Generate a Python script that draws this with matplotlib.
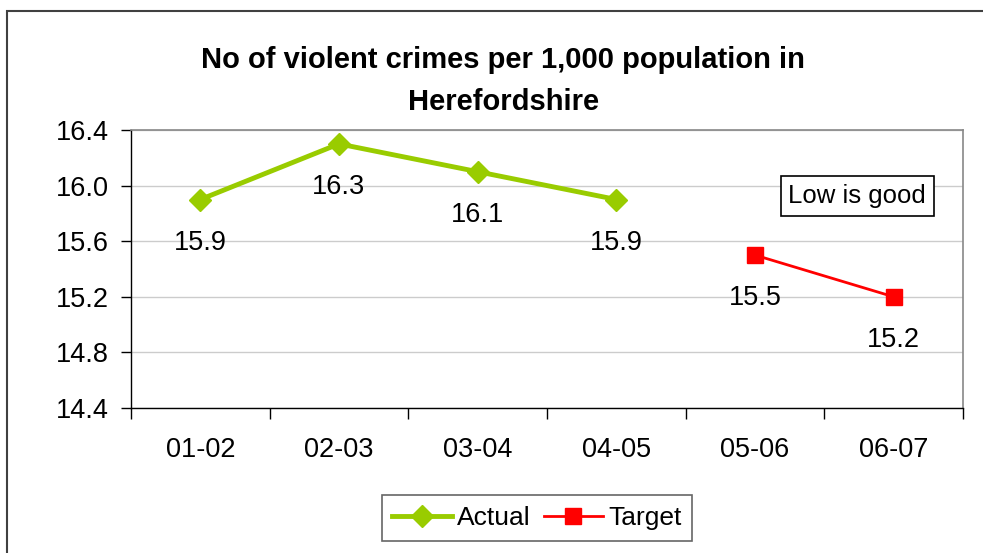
import matplotlib
matplotlib.use("Agg")
import matplotlib.pyplot as plt
from matplotlib.patches import Rectangle
from matplotlib.ticker import FixedLocator, NullFormatter

plt.rcParams['font.family'] = ['Liberation Sans', 'DejaVu Sans']

categories = ["01-02", "02-03", "03-04", "04-05", "05-06", "06-07"]
actual_idx = [0, 1, 2, 3]
actual_vals = [15.9, 16.3, 16.1, 15.9]
target_idx = [4, 5]
target_vals = [15.5, 15.2]
yticks = [14.4, 14.8, 15.2, 15.6, 16.0, 16.4]

W, H = 983, 553
fig = plt.figure(figsize=(W / 100, H / 100), dpi=100)
fig.patch.set_facecolor('white')

# outer border (cropped at right/bottom)
fig.add_artist(Rectangle((7 / W, -0.2), 1.3, (H - 11) / H + 0.2, transform=fig.transFigure,
                         fill=False, edgecolor='#404040', linewidth=1.5))

ax = fig.add_axes([131 / W, 1 - 408 / H, (963 - 131) / W, (408 - 130) / H])
ax.set_xlim(-0.5, 5.5)
ax.set_ylim(14.4, 16.4)

ax.yaxis.set_major_locator(FixedLocator(yticks))
ax.set_yticklabels([f"{v:.1f}" for v in yticks])
ax.grid(axis='y', color='#cccccc', linewidth=1)
ax.set_axisbelow(True)

ax.xaxis.set_major_locator(FixedLocator([i - 0.5 for i in range(len(categories) + 1)]))
ax.xaxis.set_major_formatter(NullFormatter())
ax.xaxis.set_minor_locator(FixedLocator(list(range(len(categories)))))
ax.set_xticklabels(categories, minor=True)
ax.tick_params(axis='x', which='major', length=8, width=1, direction='out', color='black')
ax.tick_params(axis='x', which='minor', length=0, pad=21, labelsize=19.5)
ax.tick_params(axis='y', length=7, width=1, direction='out', pad=9, labelsize=19.5)

for s in ['top', 'right']:
    ax.spines[s].set_color('#888888')
    ax.spines[s].set_linewidth(1.2)
for s in ['left', 'bottom']:
    ax.spines[s].set_color('black')
    ax.spines[s].set_linewidth(1)

ax.plot(actual_idx, actual_vals, color='#99CC00', linewidth=3.5, marker='D', markersize=11,
        markerfacecolor='#99CC00', markeredgecolor='#99CC00', label='Actual', zorder=3)
ax.plot(target_idx, target_vals, color='#FF0000', linewidth=2, marker='s', markersize=12,
        markerfacecolor='#FF0000', markeredgecolor='#FF0000', label='Target', zorder=3)

for x, v in zip(actual_idx + target_idx, actual_vals + target_vals):
    ax.annotate(f"{v:.1f}", (x, v), xytext=(0, -43), textcoords='offset pixels',
                ha='center', va='center', fontsize=19.5, color='black')

ax.text(0.873, 0.763, "Low is good", transform=ax.transAxes, ha='center', va='center',
        fontsize=18.5, bbox=dict(boxstyle='square,pad=0.3', facecolor='white',
                                 edgecolor='black', linewidth=1.2))

fig.text(0.512, 1 - 81 / H, "No of violent crimes per 1,000 population in\nHerefordshire",
         ha='center', va='center', fontsize=21, fontweight='bold', linespacing=1.65)

leg = fig.legend(loc='center', bbox_to_anchor=(537 / W, 1 - 518 / H), ncol=2, frameon=True,
                 fontsize=19, handlelength=2.25, columnspacing=0.5, handletextpad=0.2,
                 borderpad=0.4, borderaxespad=0, fancybox=False, edgecolor='#404040')
leg.get_frame().set_linewidth(1.2)

fig.savefig("out.png", dpi=100)
